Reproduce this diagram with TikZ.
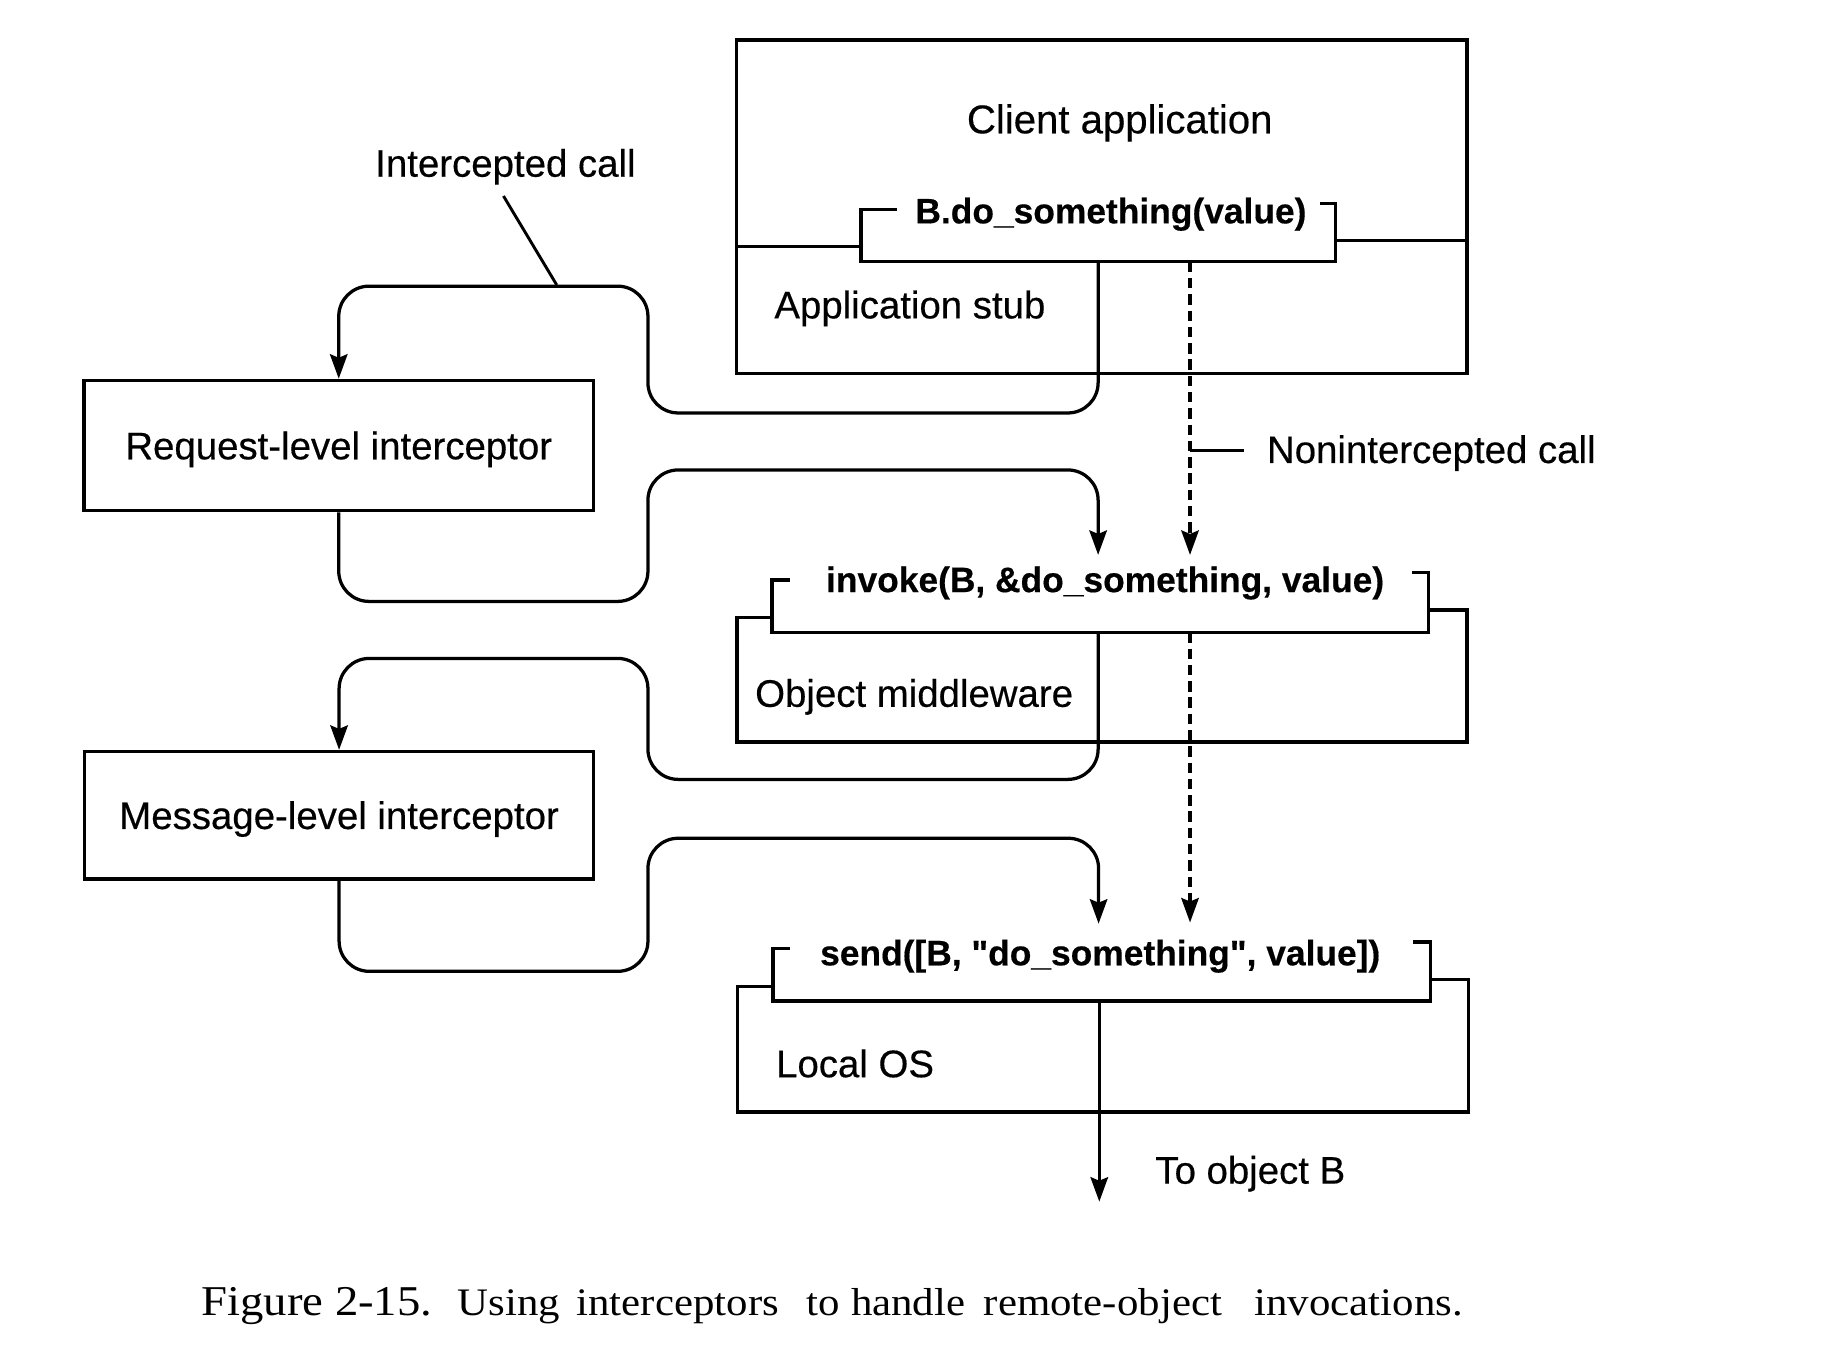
\documentclass[tikz,border=0pt]{standalone}
\usepackage{fontspec}
\setmainfont{Liberation Serif}
\newfontfamily\hv[FakeBold=0.4]{Liberation Sans}
\newfontfamily\capf[FakeStretch=1.1]{Liberation Serif}
\usetikzlibrary{arrows.meta}
\newcommand\lblf{\hv\fontsize{33}{40}\selectfont}
\newcommand\codef{\hv\bfseries\fontsize{30.4}{36}\selectfont}
\tikzset{
  ln/.style={line width=2.9pt, line join=miter},
  conn/.style={line width=2.8pt, rounded corners=26pt},
  arr/.style={-{Stealth[length=21pt,width=15pt,inset=3pt]}},
  dsh/.style={line width=2.7pt, dash pattern=on 9pt off 5pt},
  ibox/.style={draw, line width=2.9pt, inner sep=0pt, minimum width=437.7pt,
    text height=23.6pt, text depth=0pt, font=\lblf},
  lbl/.style={inner sep=0pt, font=\lblf},
  code/.style={inner sep=0pt, font=\codef},
}
\begin{document}
\begin{tikzpicture}[x=1pt,y=-1pt]
\useasboundingbox (0,0) rectangle (1568,1164);
\fill[white] (0,0) rectangle (1568,1164);

% ---- Client application / Application stub
\draw[ln] (633,34.5) rectangle (1261,321);
\draw[ln] (633,212) -- (740,212);
\draw[ln] (1148,207) -- (1261,207);
\draw[ln] (770.8,180) -- (740,180) -- (740,225) -- (1148,225) -- (1148,175) -- (1135,175);
\node[lbl, anchor=base, font=\hv\fontsize{34.5}{40}\selectfont] (client) at (962.6,114.6) {Client application};
\node[code, anchor=base] (call1) at (955,192) {B.do\_something(value)};
\node[lbl, anchor=base west] (stub) at (665.5,273.7) {Application stub};
\coordinate (b1s) at (944,225);
\coordinate (b1d) at (1023,225);

% ---- Object middleware
\draw[ln] (679,498.7) -- (663.5,498.7) -- (663.5,543.5) -- (1228,543.5) -- (1228,492) -- (1213.8,492);
\draw[ln] (663.5,531) -- (633.5,531) -- (633.5,638) -- (1261,638) -- (1261,524.5) -- (1228,524.5);
\node[code, anchor=base] (call2) at (950,509) {invoke(B, \&do\_something, value)};
\node[lbl, anchor=base west] (mw) at (649,607.6) {Object middleware};
\coordinate (b2in) at (944,477);
\coordinate (b2din) at (1023,477);
\coordinate (b2s) at (944,543.5);
\coordinate (b2d) at (1023,543.5);

% ---- Local OS
\draw[ln] (679,815.4) -- (664.4,815.4) -- (664.4,860.5) -- (1229.6,860.5) -- (1229.6,809.7) -- (1215,809.7);
\draw[ln] (664.4,847.8) -- (634,847.8) -- (634,956) -- (1262.5,956) -- (1262.5,841.8) -- (1229.6,841.8);
\node[code, anchor=base] (call3) at (945.8,829.8) {send([B, "do\_something", value])};
\node[lbl, anchor=base west] (os) at (667,926) {Local OS};
\coordinate (b3in) at (944.4,794);
\coordinate (b3din) at (1023,793);
\coordinate (b3s) at (945,860.5);
\coordinate (objB) at (945,1033);

% ---- Interceptors
\node[ibox, minimum height=112pt] (req) at (291.2,383) {Request-level interceptor};
\node[ibox, minimum height=109.5pt] (msg) at (291.5,700.8) {Message-level interceptor};

% ---- Intercepted path, request level
\draw[conn,arr] (b1s) -- (944,355) -- (557,355) -- (557,246) -- (291.2,246) -- (req.north);
\draw[conn,arr] (req.south) -- (291.2,517) -- (557,517) -- (557,404) -- (944,404) -- (b2in);
% ---- Intercepted path, message level
\draw[conn,arr] (b2s) -- (944,670) -- (557,670) -- (557,566) -- (291.5,566) -- (msg.north);
\draw[conn,arr] (msg.south) -- (291.5,835) -- (557,835) -- (557,720.6) -- (944.4,720.6) -- (b3in);
% ---- To object B
\draw[ln,arr] (b3s) -- (objB);
\node[lbl, anchor=base west] (tob) at (993,1017.5) {To object B};

% ---- Nonintercepted call
\draw[dsh,arr] (b1d) -- (b2din);
\draw[dsh,arr] (b2d) -- (b3din);
\coordinate (nt) at (1023,387);
\draw[ln] (nt) -- (1069,387);
\node[lbl, anchor=base west] (nonint) at (1089,398) {Nonintercepted call};

% ---- Intercepted call label
\node[lbl, anchor=base west] (intc) at (322.4,151.9) {Intercepted call};
\coordinate (ptr) at (478.6,245);
\draw[line width=2.5pt] (432.8,168.5) -- (ptr);

% ---- Caption
\node[inner sep=0pt, anchor=base west, font=\capf\fontsize{33.5}{38}\selectfont] (cap) at (173,1131)
  {{\fontsize{36.5}{38}\selectfont Figure 2-15.}\hspace{22pt}Using\hspace{14pt}interceptors\hspace{24pt}to handle\hspace{16pt}remote-object\hspace{28pt}invocations.};
\end{tikzpicture}
\end{document}
